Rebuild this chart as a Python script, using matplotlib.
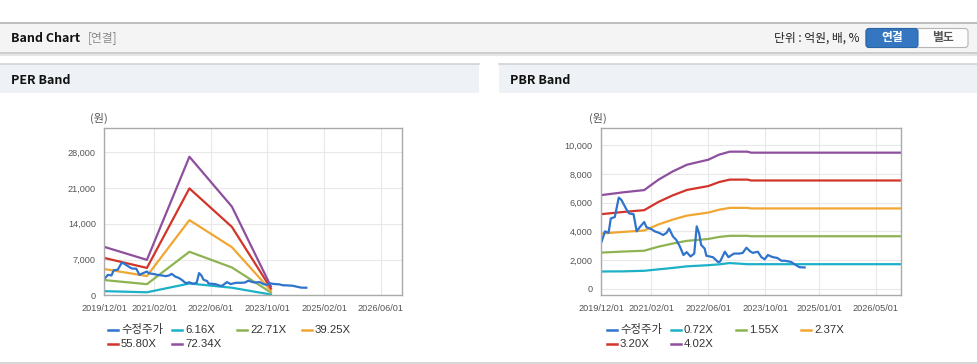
import numpy as np
import matplotlib.pyplot as plt
from matplotlib.patches import Rectangle, FancyBboxPatch
from matplotlib.ticker import FuncFormatter

plt.rcParams['font.family'] = ['Liberation Sans', 'Noto Sans CJK KR']

# ---- data (원) ----
price_dates = np.array([
    '2019-12-05', '2020-01-01', '2020-02-01', '2020-02-20', '2020-03-25', '2020-04-28',
    '2020-05-20', '2020-06-28', '2020-07-25', '2020-09-01', '2020-09-28', '2020-10-25',
    '2020-12-01', '2020-12-20', '2021-02-01', '2021-03-01', '2021-04-05', '2021-05-12',
    '2021-06-10', '2021-07-01', '2021-08-03', '2021-09-01', '2021-10-01', '2021-11-01',
    '2021-11-28', '2022-01-01', '2022-02-01', '2022-02-22', '2022-03-15', '2022-04-01',
    '2022-05-01', '2022-05-15', '2022-07-10', '2022-08-25', '2022-09-10', '2022-10-20',
    '2022-11-20', '2023-01-05', '2023-02-20', '2023-03-22', '2023-04-22', '2023-05-25',
    '2023-06-15', '2023-07-28', '2023-08-28', '2023-09-25', '2023-10-22', '2023-12-03',
    '2024-01-10', '2024-02-15', '2024-03-15', '2024-05-05', '2024-06-18', '2024-07-18',
    '2024-08-31'], dtype='datetime64[D]')
price = [3300, 4000, 3900, 4900, 5000, 6350, 6200, 5600, 5250, 5200, 4000, 4300,
         4650, 4300, 4150, 4000, 3900, 3750, 3900, 4200, 3650, 3400, 2950, 2350,
         2550, 2250, 2450, 4350, 3850, 3050, 2800, 2300, 2200, 1850, 1900, 2580,
         2200, 2450, 2450, 2500, 2860, 2600, 2500, 2580, 2200, 2050, 2350, 2200,
         2150, 1950, 1950, 1870, 1650, 1500, 1480]

per_dates = np.array(['2019-12-01', '2020-12-01', '2021-12-01', '2022-12-01', '2023-11-01'],
                     dtype='datetime64[D]')
per_616 = [810, 590, 2310, 1480, 150]
per_2271 = [2980, 2180, 8520, 5450, 550]
per_3925 = [5140, 3770, 14720, 9420, 940]
per_5580 = [7310, 5360, 20930, 13390, 1340]
per_7234 = [9480, 6940, 27130, 17360, 1740]

pbr_dates = np.array(['2019-12-01', '2020-06-01', '2020-12-01', '2021-04-01', '2021-08-01',
                      '2021-12-01', '2022-06-01', '2022-09-01', '2022-12-01', '2023-05-01',
                      '2023-06-01', '2026-12-01'], dtype='datetime64[D]')
pbr_072 = [1200, 1210, 1250, 1350, 1450, 1560, 1640, 1700, 1790, 1710, 1710, 1710]
pbr_155 = [2520, 2590, 2650, 2930, 3150, 3340, 3470, 3610, 3690, 3690, 3660, 3660]
pbr_237 = [3850, 3960, 4060, 4480, 4820, 5100, 5310, 5510, 5640, 5640, 5600, 5600]
pbr_320 = [5200, 5350, 5480, 6050, 6510, 6890, 7160, 7440, 7610, 7610, 7550, 7550]
pbr_402 = [6530, 6720, 6880, 7600, 8180, 8650, 9000, 9350, 9560, 9560, 9490, 9490]

per_labels = ['수정주가', '6.16X', '22.71X', '39.25X', '55.80X', '72.34X']
pbr_labels = ['수정주가', '0.72X', '1.55X', '2.37X', '3.20X', '4.02X']
per_xticks = ['2019-12-01', '2021-02-01', '2022-06-01', '2023-10-01', '2025-02-01', '2026-06-01']
pbr_xticks = ['2019-12-01', '2021-02-01', '2022-06-01', '2023-10-01', '2025-01-01', '2026-05-01']
colors = ['#2f74cc', '#1cb1c8', '#8db352', '#f0a630', '#d2342a', '#8e4f9e']

W, H = 978, 364
fig = plt.figure(figsize=(W / 100, H / 100), dpi=100)

# background layer in pixel coords
bg = fig.add_axes([0, 0, 1, 1], zorder=-1)
bg.set_xlim(0, W)
bg.set_ylim(H, 0)
bg.axis('off')

bg.add_patch(Rectangle((0, 22), W, 31, facecolor='#f4f4f4', edgecolor='none'))
bg.plot([0, W], [22.5, 22.5], color='#b3b3b3', lw=1.2)
bg.plot([0, W], [53, 53], color='#c6c6c6', lw=1.2)
bg.plot([0, W], [54.5, 54.5], color='#e6e6e6', lw=1.5)
bg.text(11, 38, 'Band Chart', fontsize=9, fontweight='bold', va='center',
        family=['Noto Sans CJK KR'], color='#111111')
bg.text(88, 38, '[연결]', fontsize=8.5, va='center', family=['Noto Sans CJK KR'], color='#8a8a8a')
bg.text(860, 38, '단위 : 억원, 배, %', fontsize=8.5, va='center', ha='right',
        family=['Noto Sans CJK KR'], color='#222222')
bg.add_patch(FancyBboxPatch((866, 28.5), 102, 19, boxstyle='round,pad=0,rounding_size=3',
                            facecolor='#fdfdfd', edgecolor='#b5b5b5', lw=0.8))
bg.add_patch(FancyBboxPatch((866, 28.5), 52, 19, boxstyle='round,pad=0,rounding_size=3',
                            facecolor='#3477c0', edgecolor='#2a65a8', lw=0.8))
bg.text(892, 38, '연결', fontsize=8.5, fontweight='bold', ha='center', va='center',
        family=['Noto Sans CJK KR'], color='white')
bg.text(943, 38, '별도', fontsize=8.5, fontweight='bold', ha='center', va='center',
        family=['Noto Sans CJK KR'], color='#555555')

for x0, title in [(0, 'PER Band'), (499, 'PBR Band')]:
    bg.add_patch(Rectangle((x0, 64), 479, 29, facecolor='#eef2f7', edgecolor='none'))
    bg.plot([x0, x0 + 479], [64, 64], color='#d2d2d2', lw=1.2)
    bg.text(x0 + 11, 80, title, fontsize=9, fontweight='bold', va='center',
            family=['Noto Sans CJK KR'], color='#111111')
    bg.text(x0 + 99, 118, '(원)', fontsize=8, ha='center', va='center', color='#555555',
            family=['Noto Sans CJK KR'])
bg.plot([0, W], [362.5, 362.5], color='#cfcfcf', lw=1.2)


def fmt(v, pos):
    return f'{int(v):,}'


def band_axes(rect, dates, bands, ylim, yticks, xticks, labels, x0):
    ax = fig.add_axes(rect)
    for vals, c in zip(bands, colors[1:]):
        ax.plot(dates, vals, color=c, lw=1.6, solid_joinstyle='round')
    ax.plot(price_dates, price, color=colors[0], lw=1.6, solid_joinstyle='round')
    ax.set_xlim(np.datetime64('2019-12-01'), np.datetime64('2026-12-01'))
    ax.set_ylim(*ylim)
    ax.set_yticks(yticks)
    ax.yaxis.set_major_formatter(FuncFormatter(fmt))
    ax.set_xticks(np.array(xticks, dtype='datetime64[D]'))
    ax.set_xticklabels([t.replace('-', '/') for t in xticks])
    ax.tick_params(length=0, labelsize=6.6, colors='#555555', pad=6)
    ax.grid(True, color='#e8e8e8', lw=0.8)
    ax.set_axisbelow(True)
    for s in ax.spines.values():
        s.set_color('#aaaaaa')
        s.set_linewidth(1)

    # legend, four fixed-width columns
    cols = [0, 64, 129, 194]
    for i, (lab, c) in enumerate(zip(labels, colors)):
        r, k = divmod(i, 4)
        lx = x0 + 108 + cols[k]
        ly = 330 + 14 * r
        bg.plot([lx, lx + 10], [ly, ly], color=c, lw=1.8)
        bg.text(lx + 13, ly, lab, fontsize=8.2, va='center', color='#333333')
    return ax


band_axes([104.3 / W, 1 - 295.3 / H, (402 - 104.3) / W, (295.3 - 128.3) / H],
          per_dates, [per_616, per_2271, per_3925, per_5580, per_7234],
          (0, 32700), [0, 7000, 14000, 21000, 28000], per_xticks, per_labels, 0)
band_axes([601.3 / W, 1 - 295.3 / H, (901 - 601.3) / W, (295.3 - 128.3) / H],
          pbr_dates, [pbr_072, pbr_155, pbr_237, pbr_320, pbr_402],
          (-460, 11190), [0, 2000, 4000, 6000, 8000, 10000], pbr_xticks, pbr_labels, 499)

fig.savefig('out.png', dpi=100)
